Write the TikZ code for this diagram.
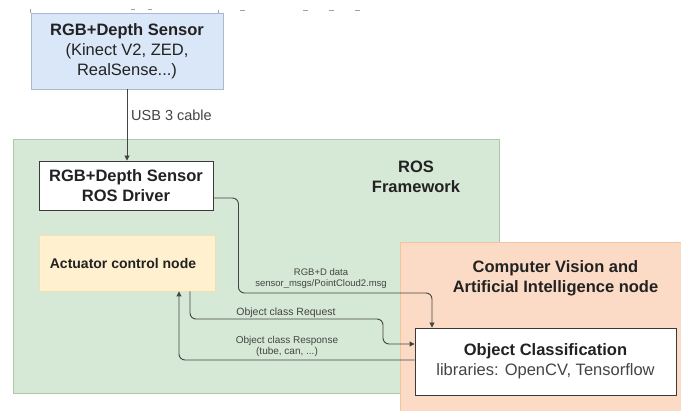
\documentclass[tikz,border=0pt]{standalone}
\usepackage{fontspec}
\setmainfont{Liberation Sans}
\usetikzlibrary{arrows.meta}

\definecolor{sensorfill}{HTML}{DAE7F8}
\definecolor{sensorline}{HTML}{A9B9CF}
\definecolor{rosfill}{HTML}{D6E8D6}
\definecolor{rosline}{HTML}{AFC8AC}
\definecolor{cvfill}{HTML}{FBDBC5}
\definecolor{cvline}{HTML}{F2C59A}
\definecolor{actfill}{HTML}{FFF1CF}
\definecolor{actline}{HTML}{F1DFB0}
\definecolor{boxline}{HTML}{3A3A3A}
\definecolor{wire}{HTML}{444444}
\definecolor{inktext}{HTML}{222222}
\definecolor{softtext}{HTML}{444444}
\definecolor{fragment}{HTML}{A0A0A0}

\tikzset{
  box/.style={draw, rectangle, inner sep=0pt, align=center, line width=0.9pt, text=inktext},
  bigbold/.style={font=\fontsize{16.5}{20}\selectfont\bfseries},
  bigtext/.style={font=\fontsize{16.5}{20}\selectfont},
  wirelabel/.style={align=center, text=softtext, inner sep=0pt},
  conn/.style={draw=wire, line width=0.9pt, rounded corners=6pt},
  tip/.style={-{Triangle[length=5pt,width=5pt]}},
  scrap/.style={draw=fragment, line width=1pt}
}

\begin{document}
\begin{tikzpicture}[x=1pt,y=-1pt]
\useasboundingbox (0,0) rectangle (681,411);
\clip (0,0) rectangle (681,411);

% remnants of a line of text cut off at the top edge
\draw[scrap] (30,9) -- (30,13);
\draw[scrap] (131,10) -- (135,10);
\draw[scrap] (148,10) -- (152,10);
\draw[scrap] (218,10) -- (218,13);
\draw[scrap] (240,11) -- (245,11);
\draw[scrap] (303,11) -- (308,11);
\draw[scrap] (329,11) -- (334,11);
\draw[scrap] (355,11) -- (360,11);

% ROS framework container
\node[box, draw=rosline, fill=rosfill, minimum width=486pt, minimum height=254pt] (ros) at (256,266) {};
\node[bigbold, align=center, text=inktext] (roslabel) at (416,177) {ROS\\Framework};

% computer vision container (runs off the page)
\node[box, draw=cvline, fill=cvfill, minimum width=300pt, minimum height=200pt, anchor=north west] (cv) at (400,242) {};
\node[bigbold, align=center, text=inktext] (cvlabel) at (555.5,278) {Computer Vision and\\Artificial Intelligence node};

% sensor hardware
\node[box, draw=sensorline, fill=sensorfill, minimum width=192pt, minimum height=76pt, bigtext] (sensor) at (127,51)
  {\textbf{RGB+Depth Sensor}\\(Kinect V2, ZED,\\RealSense...)};

% ROS nodes
\node[box, draw=boxline, fill=white, minimum width=174pt, minimum height=49pt, bigbold] (driver) at (126,185.5)
  {RGB+Depth Sensor\\ROS Driver};
\node[box, draw=actline, fill=actfill, minimum width=176pt, minimum height=56pt, font=\fontsize{14}{17}\selectfont\bfseries] (act) at (127,263)
  {\hspace*{-8pt}Actuator control node};

% classification node
\node[box, draw=boxline, fill=white, minimum width=261pt, minimum height=67pt, bigtext] (oc) at (545.5,361.5)
  {\textbf{Object Classification}\\\textcolor{softtext}{libraries: OpenCV, Tensorflow}};

% connectors
\draw[conn, tip] (sensor.south) -- (sensor.south |- driver.north);
\node[wirelabel, anchor=west, font=\fontsize{14.5}{17}\selectfont] (usb) at (131,115) {USB 3 cable};

\draw[conn, tip] ([yshift=-12.5pt]driver.east) -| ++(25,95) -| ([xshift=-113.5pt]oc.north);
\node[wirelabel, font=\fontsize{9.5}{11}\selectfont] (rgbdlabel) at (321,278.5) {RGB+D data\\sensor\_msgs/PointCloud2.msg};

\draw[conn, tip] ([xshift=63pt]act.south) |- (383,319) |- ([yshift=17.5pt]oc.west);
\node[wirelabel, font=\fontsize{10.5}{12}\selectfont] (reqlabel) at (286,312.5) {Object class Request};

\draw[conn, tip] ([yshift=1.5pt]oc.west) -| ([xshift=52pt]act.south);
\node[wirelabel, font=\fontsize{10}{11}\selectfont] (resplabel) at (287,346) {Object class Response\\(tube, can, ...)};

\end{tikzpicture}
\end{document}
